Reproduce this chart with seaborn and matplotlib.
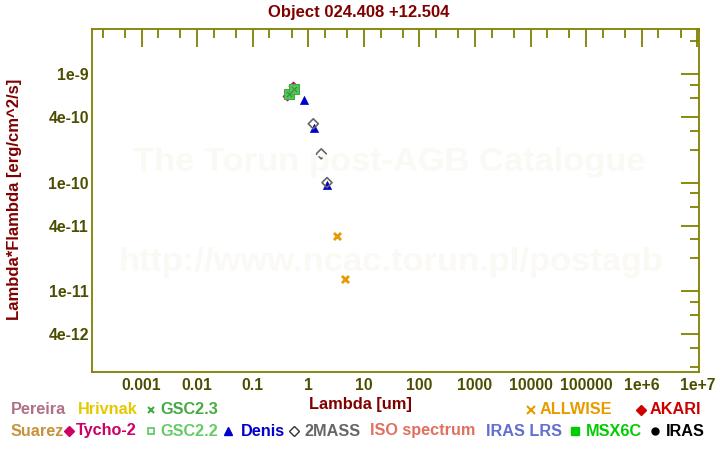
import matplotlib
matplotlib.use("Agg")
import matplotlib.pyplot as plt
import matplotlib.ticker as mticker
import seaborn as sns
import numpy as np
import pandas as pd

# ---- data (wavelength um, lambda*F_lambda erg/cm^2/s) ----
tycho_wl = [0.42, 0.53]
tycho_f = [6.3e-10, 7.7e-10]
gsc22_wl = [0.455, 0.56]
gsc22_f = [6.5e-10, 7.35e-10]
gsc23_wl = [0.455, 0.56]
gsc23_f = [6.5e-10, 7.35e-10]
denis_wl = [0.84, 1.27, 2.17]
denis_f = [5.75e-10, 3.2e-10, 9.5e-11]
mass2_wl = [1.23, 1.71, 2.17]
mass2_f = [3.48e-10, 1.84e-10, 1.0e-10]
allwise_wl = [3.32, 4.63]
allwise_f = [3.25e-11, 1.29e-11]

title = "Object 024.408 +12.504"
xtick_vals = [1e-3, 1e-2, 1e-1, 1, 10, 100, 1000, 1e4, 1e5, 1e6, 1e7]
xtick_labels = ["0.001", "0.01", "0.1", "1", "10", "100", "1000", "10000", "100000", "1e+6", "1e+7"]
ytick_vals = [4e-12, 1e-11, 4e-11, 1e-10, 4e-10, 1e-9]
ytick_labels = ["4e-12", "1e-11", "4e-11", "1e-10", "4e-10", "1e-9"]

sns.set_theme(style="white")
plt.rcParams['font.family'] = ['Liberation Sans', 'DejaVu Sans']
plt.rcParams['font.weight'] = 'bold'

W, H = 720, 450
fig = plt.figure(figsize=(7.2, 4.5), dpi=100)
fig.patch.set_facecolor("white")
L, R, T, B = 92.3, 699.3, 29.3, 371.5
ax = fig.add_axes([L / W, 1 - B / H, (R - L) / W, (B - T) / H])
ax.set_facecolor("white")

olive = "#808000"
tickc = "#4d4d00"
darkred = "#800000"

# watermark
fig.text(389 / W, 1 - 163 / H, "The Torun post-AGB Catalogue", ha="center", va="center",
         fontsize=24.8, fontweight="bold", color="#fbf9f4", zorder=0)
fig.text(391 / W, 1 - 262 / H, "http://www.ncac.torun.pl/postagb", ha="center", va="center",
         fontsize=24.8, fontweight="bold", color="#fbf9f4", zorder=0)
ax.patch.set_alpha(0)

def plot(wl, f, **kw):
    df = pd.DataFrame({"wl": wl, "f": f})
    sns.scatterplot(data=df, x="wl", y="f", ax=ax, legend=False, **kw)

plot(tycho_wl, tycho_f, marker="D", s=22, color="#cc0066", edgecolor="#cc0066", linewidth=0.5, zorder=3)
plot(gsc22_wl, gsc22_f, marker="s", s=42, color="#5cc05c", edgecolor="#44aa44", linewidth=0.8, zorder=4)
plot(gsc23_wl, gsc23_f, marker="x", s=14, color="#2f9a2f", linewidth=0.8, zorder=5)
plot(denis_wl, denis_f, marker="^", s=34, color="#0000cc", edgecolor="#0000cc", linewidth=0.5, zorder=4)
plot(mass2_wl, mass2_f, marker="D", s=26, facecolor="none", edgecolor="#666666", linewidth=1.2, zorder=5)
plot(allwise_wl, allwise_f, marker="x", s=26, color="#e69b00", linewidth=2.0, zorder=5)

ax.set_xscale("log")
ax.set_yscale("log")
ax.set_xlim(10 ** -3.887, 10 ** 7.036)
ax.set_ylim(10 ** -11.740, 10 ** -8.588)

ax.xaxis.set_major_locator(mticker.FixedLocator(xtick_vals))
ax.xaxis.set_major_formatter(mticker.FixedFormatter(xtick_labels))
ax.xaxis.set_minor_locator(mticker.LogLocator(base=10, subs=(2.0, 5.0), numticks=30))
ax.xaxis.set_minor_formatter(mticker.NullFormatter())

ax.yaxis.set_major_locator(mticker.FixedLocator(ytick_vals))
ax.yaxis.set_major_formatter(mticker.FixedFormatter(ytick_labels))
ax.yaxis.set_minor_locator(mticker.LogLocator(base=10, subs=(2.0, 3.0, 6.0, 8.0), numticks=30))
ax.yaxis.set_minor_formatter(mticker.NullFormatter())

for s in ax.spines.values():
    s.set_color(olive)
    s.set_linewidth(1.3)
ax.tick_params(which="both", direction="in", top=True, right=True, color=olive, width=1.3)
ax.tick_params(which="major", length=13, labelsize=11.3, labelcolor=tickc)
ax.tick_params(axis="y", which="major", pad=2.5)
ax.tick_params(axis="x", which="major", pad=5)
ax.tick_params(which="minor", length=6.5)
for lab in ax.get_xticklabels() + ax.get_yticklabels():
    lab.set_fontweight("bold")

ax.set_xlabel("")
ax.set_ylabel("")
fig.text(360 / W, 1 - 404 / H, "Lambda [um]", ha="center", va="center", fontsize=11.8,
         fontweight="bold", color=darkred)
fig.text(15 / W, 1 - 199 / H, "Lambda*Flambda [erg/cm^2/s]", ha="center", va="center",
         rotation=90, fontsize=12, fontweight="bold", color=darkred)
fig.text(359 / W, 1 - 12 / H, title, ha="center", va="center", fontsize=12,
         fontweight="bold", color=darkred)

# legend (text-like catalogue keys)
def key(xm, y, sym, color, ms=5, mfc=None, mew=1.0):
    fig.lines.append(plt.Line2D([xm / W], [1 - y / H], transform=fig.transFigure, marker=sym,
                                color=color, markersize=ms, linestyle="none",
                                markerfacecolor=mfc if mfc is not None else color,
                                markeredgewidth=mew))

def lab(x, y, txt, color):
    fig.text(x / W, 1 - y / H, txt, ha="left", va="center", fontsize=11.7,
             fontweight="bold", color=color)

r1, r2 = 410, 431
lab(11, r1, "Pereira", "#b07088")
lab(77.5, r1, "Hrivnak", "#e6c800")
key(150.7, r1, "x", "#44aa44", ms=5, mew=1.5)
lab(160.5, r1, "GSC2.3", "#44aa44")
key(530.7, r1, "x", "#e69b00", ms=6, mew=1.5)
lab(540, r1, "ALLWISE", "#e69b00")
key(641, r1, "D", "#cc0000", ms=5)
lab(650, r1, "AKARI", "#cc0000")

lab(10.5, r2, "Suarez", "#c8913c")
key(69.3, r2, "D", "#cc0066", ms=5)
lab(75.5, r2, "Tycho-2", "#cc0066")
key(150.7, r2, "s", "#66cc66", ms=5, mfc="none", mew=1.3)
lab(160.5, r2, "GSC2.2", "#66cc66")
key(228.3, r2, "^", "#0000cc", ms=6)
lab(240.5, r2, "Denis", "#0000cc")
key(294, r2, "D", "#333333", ms=5, mfc="none", mew=1.0)
lab(304.5, r2, "2MASS", "#666666")
lab(370.5, r2, "ISO spectrum", "#e07060")
lab(485.5, r2, "IRAS LRS", "#6070d0")
key(575, r2, "s", "#00cc00", ms=6)
lab(585.5, r2, "MSX6C", "#00cc00")
key(655, r2, "o", "#000000", ms=5)
lab(665.5, r2, "IRAS", "#000000")

fig.savefig("out.png", dpi=100)
